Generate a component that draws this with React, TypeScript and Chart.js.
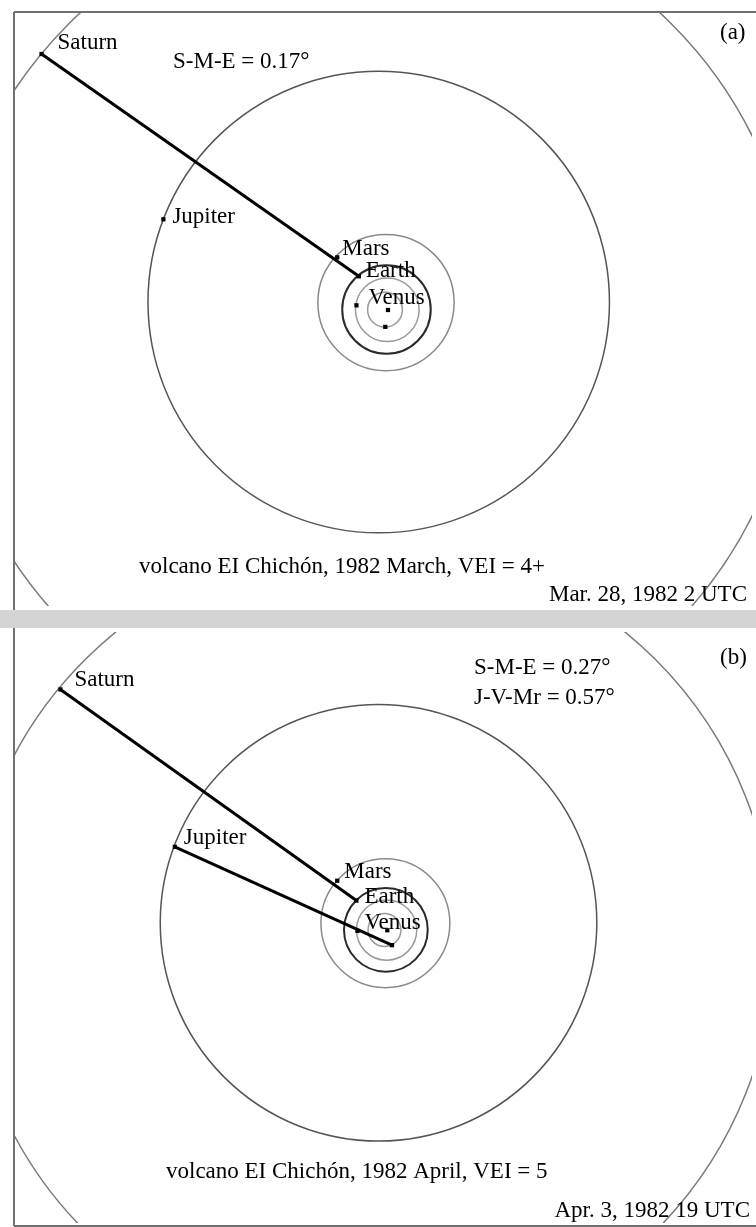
import React, { useEffect, useRef } from "react";
import { Chart, registerables } from "chart.js";

Chart.register(...registerables);

// ---------- DATA (units: panel-(a) pixels, Sun at origin, y up) ----------
const planetNames = ["Mercury", "Venus", "Earth", "Mars", "Jupiter", "Saturn"];

// Orbit centres (relative to the Sun) and radii
const orbitCx = [-3, -0.7, -1.5, -2, -9.3, -18];
const orbitCy = [0.3, 0.2, 0.5, 7.5, 8, -16];
const orbitR = [17.5, 32, 44.5, 68.5, 232, 429];

// Panel (a): Mar. 28, 1982 2 UTC
const posAx = [-2.7, -31.7, -29.3, -51, -225.8, -348.3];
const posAy = [-17, 4.7, 33.9, 53, 91.3, 257.7];
const linksA: [string, string][] = [["Saturn", "Earth"]];
const anglesA = ["S-M-E = 0.17°"];
const titleA = "volcano EI Chichón, 1982 March, VEI = 4+";
const dateA = "Mar. 28, 1982 2 UTC";
const tagA = "(a)";

// Panel (b): Apr. 3, 1982 19 UTC
const posBx = [5.0, -31.7, -32.8, -53.2, -225.8, -347.4];
const posBy = [-15.9, -0.7, 31.7, 52.9, 89.1, 257.2];
const linksB: [string, string][] = [
  ["Saturn", "Earth"],
  ["Jupiter", "Mercury"],
];
const anglesB = ["S-M-E = 0.27°", "J-V-Mr = 0.57°"];
const titleB = "volcano EI Chichón, 1982 April, VEI = 5";
const dateB = "Apr. 3, 1982 19 UTC";
const tagB = "(b)";

const labelled = ["Saturn", "Jupiter", "Mars", "Earth", "Venus"];

// ---------- STYLE ----------
const orbitColors = ["#9a9a9a", "#9a9a9a", "#2a2a2a", "#8a8a8a", "#555555", "#7a7a7a"];
const orbitWidths = [1.5, 1.5, 2, 1.5, 1.5, 1.5];
const FONT = '23px "Liberation Serif", "Times New Roman", serif';
const W = 756;

type TextItem = { text: string; x: number; y: number; align: CanvasTextAlign };
type PanelCfg = {
  top: number;
  height: number;
  sunX: number;
  sunY: number;
  k: number;
  pad: { left: number; top: number; right: number; bottom: number };
  borders: [number, number, number, number][];
  posX: number[];
  posY: number[];
  links: [string, string][];
  labelOffsets: Record<string, [number, number]>;
  texts: TextItem[];
};

const panelA: PanelCfg = {
  top: 0,
  height: 610,
  sunX: 390,
  sunY: 312,
  k: 1,
  pad: { left: 14, top: 12, right: 0, bottom: 0 },
  borders: [
    [14, 12, W, 12],
    [14, 12, 14, 610],
  ],
  posX: posAx,
  posY: posAy,
  links: linksA,
  labelOffsets: {
    Saturn: [16, -11],
    Jupiter: [9, -2],
    Mars: [5, -8],
    Earth: [7, -5],
    Venus: [12, -7],
  },
  texts: [
    { text: anglesA[0], x: 173, y: 62, align: "left" },
    { text: tagA, x: 720, y: 33, align: "left" },
    { text: titleA, x: 139, y: 567, align: "left" },
    { text: dateA, x: 747, y: 595, align: "right" },
  ],
};

const panelB: PanelCfg = {
  top: 628,
  height: 599,
  sunX: 389.3,
  sunY: 301.3,
  k: 0.946,
  pad: { left: 14, top: 0, right: 0, bottom: 2 },
  borders: [
    [14, 0, 14, 598],
    [14, 598, W, 598],
  ],
  posX: posBx,
  posY: posBy,
  links: linksB,
  labelOffsets: {
    Saturn: [14, -9],
    Jupiter: [9, -9],
    Mars: [7, -9],
    Earth: [8, -4],
    Venus: [7, -8],
  },
  texts: [
    { text: anglesB[0], x: 474, y: 40, align: "left" },
    { text: anglesB[1], x: 474, y: 70, align: "left" },
    { text: tagB, x: 720, y: 30, align: "left" },
    { text: titleB, x: 166, y: 544, align: "left" },
    { text: dateB, x: 750, y: 583, align: "right" },
  ],
};

function PanelChart({ cfg }: { cfg: PanelCfg }) {
  const ref = useRef<HTMLCanvasElement | null>(null);

  useEffect(() => {
    if (!ref.current) return;
    const H = cfg.height;
    const xMin = (cfg.pad.left - cfg.sunX) / cfg.k;
    const xMax = (W - cfg.pad.right - cfg.sunX) / cfg.k;
    const yMax = (cfg.sunY - cfg.pad.top) / cfg.k;
    const yMin = (cfg.sunY - (H - cfg.pad.bottom)) / cfg.k;

    const idx = (n: string) => planetNames.indexOf(n);
    const pt = (n: string) => ({ x: cfg.posX[idx(n)], y: cfg.posY[idx(n)] });

    const linkSets = cfg.links.map(([a, b]) => ({
      type: "scatter" as const,
      data: [pt(a), pt(b)],
      showLine: true,
      borderColor: "#000",
      borderWidth: 3,
      pointRadius: 0,
      fill: false,
    }));

    const planetSet = {
      type: "scatter" as const,
      data: [{ x: 0, y: 0 }, ...planetNames.map((n) => pt(n))],
      pointStyle: "rect" as const,
      pointRadius: 3,
      backgroundColor: "#000",
      borderColor: "#000",
      borderWidth: 0,
      showLine: false,
    };

    const orbitPlugin = {
      id: "orbits",
      beforeDatasetsDraw(chart: any) {
        const { ctx, chartArea, scales } = chart;
        const x = scales.x;
        const y = scales.y;
        ctx.save();
        ctx.beginPath();
        ctx.rect(chartArea.left, chartArea.top, chartArea.right - chartArea.left, chartArea.bottom - chartArea.top);
        ctx.clip();
        orbitR.forEach((r, i) => {
          const cx = x.getPixelForValue(orbitCx[i]);
          const cy = y.getPixelForValue(orbitCy[i]);
          const rp = x.getPixelForValue(orbitCx[i] + r) - cx;
          ctx.beginPath();
          ctx.arc(cx, cy, rp, 0, Math.PI * 2);
          ctx.strokeStyle = orbitColors[i];
          ctx.lineWidth = orbitWidths[i];
          ctx.stroke();
        });
        ctx.restore();
      },
    };

    const labelPlugin = {
      id: "labels",
      afterDatasetsDraw(chart: any) {
        const { ctx, scales } = chart;
        ctx.save();
        ctx.font = FONT;
        ctx.fillStyle = "#000";
        ctx.textBaseline = "middle";
        ctx.textAlign = "left";
        labelled.forEach((n) => {
          const p = pt(n);
          const off = cfg.labelOffsets[n] || [6, -6];
          ctx.fillText(n, scales.x.getPixelForValue(p.x) + off[0], scales.y.getPixelForValue(p.y) + off[1]);
        });
        ctx.restore();
      },
      afterDraw(chart: any) {
        const { ctx } = chart;
        ctx.save();
        ctx.strokeStyle = "#707070";
        ctx.lineWidth = 2;
        cfg.borders.forEach(([x1, y1, x2, y2]) => {
          ctx.beginPath();
          ctx.moveTo(x1, y1);
          ctx.lineTo(x2, y2);
          ctx.stroke();
        });
        ctx.font = FONT;
        ctx.fillStyle = "#000";
        ctx.textBaseline = "middle";
        cfg.texts.forEach((t) => {
          ctx.textAlign = t.align;
          ctx.fillText(t.text, t.x, t.y);
        });
        ctx.restore();
      },
    };

    const chart = new Chart(ref.current, {
      type: "scatter",
      data: { datasets: [...linkSets, planetSet] as any },
      options: {
        animation: false,
        responsive: false,
        devicePixelRatio: 1,
        layout: { padding: cfg.pad },
        plugins: { legend: { display: false }, tooltip: { enabled: false } },
        scales: {
          x: { type: "linear", min: xMin, max: xMax, display: false },
          y: { type: "linear", min: yMin, max: yMax, display: false },
        },
      },
      plugins: [orbitPlugin, labelPlugin],
    });
    return () => chart.destroy();
  }, [cfg]);

  return (
    <canvas
      ref={ref}
      width={W}
      height={cfg.height}
      style={{ position: "absolute", left: 0, top: cfg.top, width: W, height: cfg.height }}
    />
  );
}

export default function App() {
  return (
    <div style={{ position: "absolute", left: 0, top: 0, width: W, height: 1227, background: "#fff", overflow: "hidden" }}>
      <PanelChart cfg={panelA} />
      <div style={{ position: "absolute", left: 0, top: 610, width: W, height: 18, background: "#d4d4d4" }} />
      <PanelChart cfg={panelB} />
    </div>
  );
}
